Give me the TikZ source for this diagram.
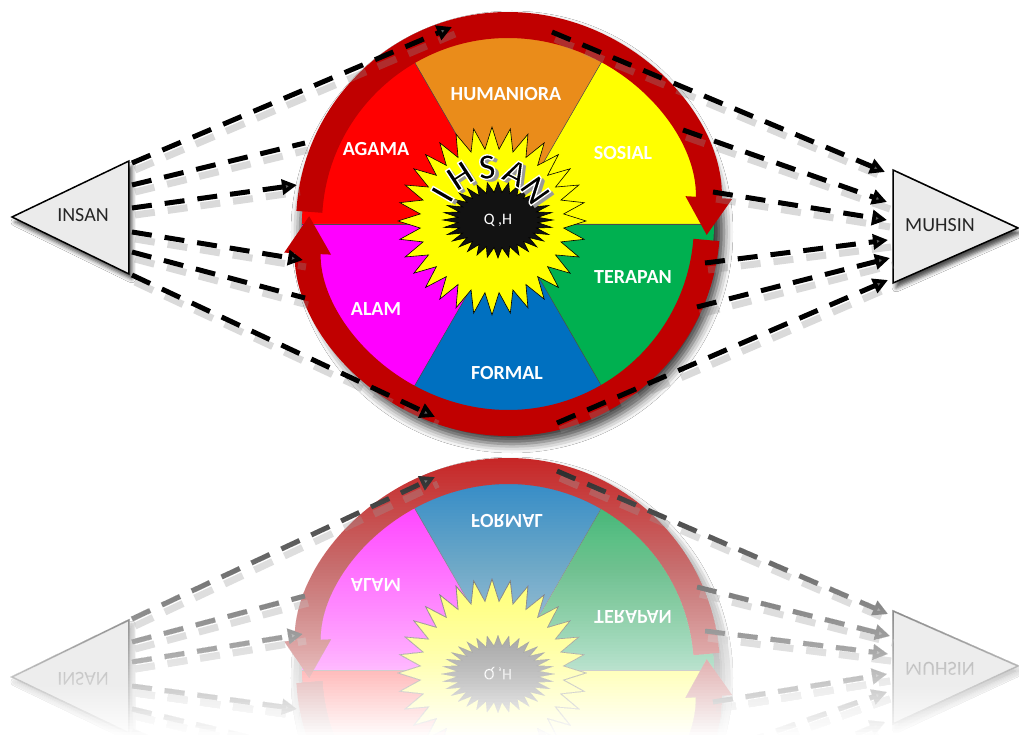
\documentclass[tikz,border=0pt]{standalone}
\usepackage{fontspec}
\setmainfont{Carlito}
\usetikzlibrary{arrows.meta,shadows.blur}

\definecolor{ringred}{HTML}{C00000}
\definecolor{agama}{HTML}{FF0000}
\definecolor{humaniora}{HTML}{EA8C1A}
\definecolor{sosial}{HTML}{FFFF00}
\definecolor{terapan}{HTML}{00B050}
\definecolor{formal}{HTML}{0070C0}
\definecolor{alam}{HTML}{FF00FF}

\tikzset{
  seclbl/.style={text=white, font=\fontsize{20}{24}\selectfont\bfseries},
  ihsan/.style={font=\fontsize{37}{40}\selectfont\bfseries, inner sep=0pt},
  tri/.style={draw, line width=1.5pt, fill=black!8, line join=miter,
    blur shadow={shadow xshift=3pt, shadow yshift=-5pt, shadow blur radius=4pt, shadow opacity=70}},
  trilbl/.style={font=\fontsize{20}{24}\selectfont, text=black!85},
  dashln/.style={line width=5pt, dash pattern=on 20pt off 13pt},
  dashsh/.style={dashln, draw=black!45, opacity=.32, line width=7pt,
    transform canvas={xshift=3pt, yshift=-7pt}},
  dtip/.style={-{Triangle[length=15pt,width=15pt]}},
  ringarc/.style={draw=ringred, line width=26pt, -{Triangle[length=38pt,width=44pt]}},
  star/.style={draw, line width=.6pt}
}

% black letter with a white rim (fill, then stroke)
\newcommand{\rimmed}[1]{\special{pdf:literal direct 2 Tr 1.3 w 1 1 1 RG}#1\special{pdf:literal direct 0 Tr}}
\newif\ifmirror

\newcommand{\ihsanwheel}{%
  % wheel
  \path[blur shadow={shadow xshift=4pt, shadow yshift=-8pt, shadow blur radius=9pt, shadow opacity=75}] (0,0) circle (212);
  \foreach \a/\col in {0/sosial,60/humaniora,120/agama,180/alam,240/formal,300/terapan}
    \fill[\col] (0,0) -- (\a:206) arc[start angle=\a, end angle=\a+60, radius=206] -- cycle;
  \foreach \a in {0,60,...,300}
    \draw[black!70, line width=.5pt] (0,0) -- (\a:206);
  \ifmirror\else
    \node[seclbl] (hum) at (-2,130) {HUMANIORA};
    \node[seclbl] (aga) at (-132,75) {AGAMA};
    \node[seclbl] (sos) at (115,71) {SOSIAL};
  \fi
  \node[seclbl] (ter) at (125,-53) {TERAPAN};
  \node[seclbl] (ala) at (-132,-85) {ALAM};
  \node[seclbl] (for) at (-1,-149) {FORMAL};
  % stars
  \draw[star, fill=sosial] plot[domain=0:63, samples=64, variable=\k]
    ({(83+11*cos(\k*180))*cos(\k*5.625)-16}, {(83+11*cos(\k*180))*sin(\k*5.625)+3}) -- cycle;
  \draw[star, fill=black!93] plot[domain=0:63, samples=64, variable=\k]
    ({(0.865+0.135*cos(\k*180))*cos(\k*5.625)*55-10}, {(0.865+0.135*cos(\k*180))*sin(\k*5.625)*38+4}) -- cycle;
  \node[text=white, font=\fontsize{16}{18}\selectfont] (qh) at (-10,4) {Q ,H};
  \ifmirror\else
  \begin{scope}[shift={(-18,2)}]
    \foreach \ch/\ang in {I/150,H/123,S/93,A/63,N/35}{
      \node[ihsan, text=black!40, rotate=\ang-90] (ihs\ch) at ([xshift=4pt,yshift=-3pt]\ang:55) {\ch};
      \node[ihsan, rotate=\ang-90] (ih\ch) at (\ang:55) {\rimmed{\ch}};
    }
  \end{scope}
  \fi
  % ring
  \draw[ringarc] (176.5:199) arc[start angle=176.5, end angle=-3.3, radius=199];
  \draw[ringarc] (-4.6:199) arc[start angle=-4.6, end angle=-182.4, radius=199];
  % INSAN and MUHSIN
  \draw[tri] (-496,7) -- (-379,63) -- (-379,-50) -- cycle;
  \node[trilbl] (insan) at (-425,9) {INSAN};
  \draw[tri] (510,-4) -- (385,54) -- (385,-59) -- cycle;
  \node[trilbl] (muhsin) at (432,-1) {MUHSIN};
  % ends of the dashed arrows
  \coordinate (i1) at (-376,61);  \coordinate (w1) at (-56,197);
  \coordinate (i2) at (-376,39);  \coordinate (w2) at (-203,81);
  \coordinate (i3) at (-376,16);  \coordinate (w3) at (-211,39);
  \coordinate (i4) at (-376,-8);  \coordinate (w4) at (-205,-36);
  \coordinate (i5) at (-376,-28); \coordinate (w5) at (-203,-74);
  \coordinate (i6) at (-376,-51); \coordinate (w6) at (-73,-193);
  \coordinate (v1) at (44,192);   \coordinate (m1) at (377,52);
  \coordinate (v2) at (175,94);   \coordinate (m2) at (379,22);
  \coordinate (v3) at (205,32);   \coordinate (m3) at (379,4);
  \coordinate (v4) at (197,-39);  \coordinate (m4) at (380,-16);
  \coordinate (v5) at (189,-83);  \coordinate (m5) at (382,-34);
  \coordinate (v6) at (49,-199);  \coordinate (m6) at (380,-56);
  \foreach \s/\t in {i1/w1,i2/w2,i3/w3,i4/w4,i5/w5,i6/w6,v1/m1,v2/m2,v3/m3,v4/m4,v5/m5,v6/m6}
    \draw[dashsh] (\s) -- (\t);
  \foreach \s/\t in {i2/w2,i5/w5}
    \draw[dashln] (\s) -- (\t);
  \foreach \s/\t in {i1/w1,i3/w3,i4/w4,i6/w6,v1/m1,v2/m2,v3/m3,v4/m4,v5/m5,v6/m6}
    \draw[dashln, dtip] (\s) -- (\t);
}

\begin{document}
\begin{tikzpicture}[x=1pt, y=1pt]
  \fill[white] (-508,-511) rectangle (511,224);
  \useasboundingbox (-508,-511) rectangle (511,224);
  \ihsanwheel
  % reflection, mirrored about y=-223 and washed out downwards
  \begin{scope}
    \clip (-508,-511) rectangle (511,224);
    \mirrortrue
    \begin{scope}[yshift=-446pt, yscale=-1, transform shape]
      \ihsanwheel
    \end{scope}
    \fill[white, opacity=.12] (-508,-223) rectangle (511,-511);
    \foreach \k in {1,...,96}
      \fill[white, opacity={1/(97-\k)}] (-508,-223-3*\k) rectangle (511,-511);
  \end{scope}
\end{tikzpicture}
\end{document}
